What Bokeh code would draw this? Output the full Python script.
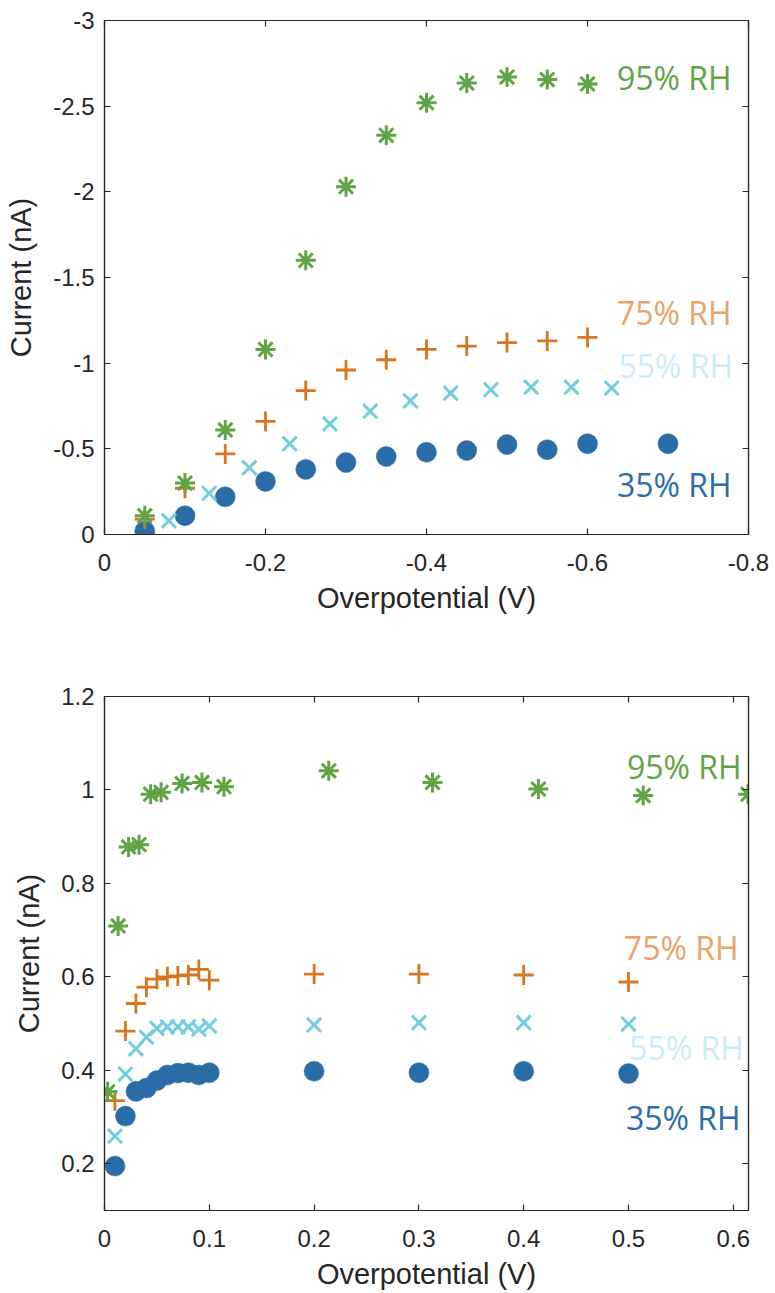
from bokeh.plotting import figure
from bokeh.layouts import column
from bokeh.models import Range1d, FixedTicker, LinearAxis, ColumnDataSource
from bokeh.core.properties import value
from bokeh.embed import file_html
from bokeh.resources import INLINE

# ---------------- data: top panel (cathodic sweep) ----------------
top_x_35 = [-0.05, -0.10, -0.15, -0.20, -0.25, -0.30, -0.35, -0.40, -0.45, -0.50, -0.55, -0.60, -0.70]
top_y_35 = [-0.02, -0.11, -0.22, -0.31, -0.38, -0.42, -0.455, -0.48, -0.49, -0.525, -0.495, -0.53, -0.53]
top_x_55 = [-0.08, -0.13, -0.18, -0.23, -0.28, -0.33, -0.38, -0.43, -0.48, -0.53, -0.58, -0.63]
top_y_55 = [-0.08, -0.24, -0.39, -0.53, -0.645, -0.72, -0.78, -0.825, -0.845, -0.86, -0.86, -0.855]
top_x_75 = [-0.05, -0.10, -0.15, -0.20, -0.25, -0.30, -0.35, -0.40, -0.45, -0.50, -0.55, -0.60]
top_y_75 = [-0.09, -0.27, -0.47, -0.66, -0.84, -0.96, -1.02, -1.08, -1.10, -1.12, -1.13, -1.15]
top_x_95 = [-0.05, -0.10, -0.15, -0.20, -0.25, -0.30, -0.35, -0.40, -0.45, -0.50, -0.55, -0.60]
top_y_95 = [-0.11, -0.30, -0.61, -1.08, -1.60, -2.03, -2.33, -2.52, -2.635, -2.67, -2.655, -2.63]

top_x_ticks = [0, -0.2, -0.4, -0.6, -0.8]
top_x_tick_labels = ["0", "-0.2", "-0.4", "-0.6", "-0.8"]
top_y_ticks = [0, -0.5, -1, -1.5, -2, -2.5, -3]
top_y_tick_labels = ["0", "-0.5", "-1", "-1.5", "-2", "-2.5", "-3"]

top_label_text = ["95% RH", "75% RH", "55% RH", "35% RH"]
top_label_x = [-0.779, -0.779, -0.781, -0.779]
top_label_y = [-2.668, -1.296, -0.989, -0.289]

# ---------------- data: bottom panel (anodic sweep) ----------------
bot_x_35 = [0.01, 0.02, 0.03, 0.04, 0.05, 0.06, 0.07, 0.08, 0.09, 0.10, 0.2, 0.3, 0.4, 0.5]
bot_y_35 = [0.195, 0.302, 0.355, 0.362, 0.378, 0.390, 0.394, 0.395, 0.390, 0.395, 0.398, 0.395, 0.398, 0.393]
bot_x_55 = [0.01, 0.02, 0.03, 0.04, 0.05, 0.06, 0.07, 0.08, 0.09, 0.10, 0.2, 0.3, 0.4, 0.5]
bot_y_55 = [0.259, 0.392, 0.446, 0.471, 0.490, 0.493, 0.493, 0.493, 0.488, 0.495, 0.497, 0.502, 0.502, 0.499]
bot_x_75 = [0.01, 0.02, 0.03, 0.04, 0.05, 0.06, 0.07, 0.08, 0.09, 0.10, 0.2, 0.3, 0.4, 0.5]
bot_y_75 = [0.335, 0.484, 0.543, 0.578, 0.595, 0.600, 0.602, 0.604, 0.616, 0.593, 0.606, 0.606, 0.604, 0.589]
bot_x_95 = [0.003, 0.013, 0.023, 0.033, 0.044, 0.054, 0.074, 0.093, 0.114, 0.214, 0.313, 0.414, 0.514, 0.614]
bot_y_95 = [0.354, 0.709, 0.878, 0.883, 0.991, 0.995, 1.014, 1.016, 1.007, 1.041, 1.016, 1.002, 0.988, 0.991]

bot_x_ticks = [0, 0.1, 0.2, 0.3, 0.4, 0.5, 0.6]
bot_x_tick_labels = ["0", "0.1", "0.2", "0.3", "0.4", "0.5", "0.6"]
bot_y_ticks = [0.2, 0.4, 0.6, 0.8, 1.0, 1.2]
bot_y_tick_labels = ["0.2", "0.4", "0.6", "0.8", "1", "1.2"]

bot_label_text = ["95% RH", "75% RH", "55% RH", "35% RH"]
bot_label_x = [0.608, 0.605, 0.610, 0.607]
bot_label_y = [1.051, 0.663, 0.449, 0.299]

# ---------------- styles ----------------
C35, C55, C75, C95 = "#2A6CA6", "#74CDDF", "#D8751F", "#62A346"
LABEL_COLORS = ["#62A346", "#E8A46A", "#CDEBF6", "#2C6DA7"]
AX = "#262626"
TICK_FONT = "Liberation Sans"


def style_axis(ax, ticks, labels, show_labels=True):
    ax.ticker = FixedTicker(ticks=ticks)
    ax.major_tick_in = 6
    ax.major_tick_out = 0
    ax.minor_tick_line_color = None
    ax.axis_line_color = AX
    ax.axis_line_width = 1.2
    ax.major_tick_line_color = AX
    ax.major_tick_line_width = 1.2
    if show_labels:
        ax.major_label_overrides = {t: l for t, l in zip(ticks, labels)}
        ax.major_label_text_font = TICK_FONT
        ax.major_label_text_color = AX
        ax.major_label_text_font_size = "24px"
    else:
        # mirrored tick marks only (MATLAB box style)
        ax.major_label_text_color = None
        ax.major_label_text_font_size = "1px"
        ax.major_label_standoff = 0


def make_panel(xr, yr, xt, xtl, yt, ytl, height, top_b, bot_b, series, labels):
    p = figure(width=775, height=height, x_range=xr, y_range=yr,
               output_backend="svg", toolbar_location=None,
               min_border_left=104, min_border_right=27,
               min_border_top=top_b, min_border_bottom=bot_b)
    p.grid.visible = False
    p.outline_line_color = AX
    p.outline_line_width = 1.2
    p.background_fill_color = "white"
    p.border_fill_color = "white"

    style_axis(p.xaxis[0], xt, xtl)
    style_axis(p.yaxis[0], yt, ytl)
    p.xaxis.axis_label = "Overpotential (V)"
    p.yaxis.axis_label = "Current (nA)"
    for ax in (p.xaxis[0], p.yaxis[0]):
        ax.axis_label_text_font = TICK_FONT
        ax.axis_label_text_font_style = "normal"
        ax.axis_label_text_font_size = "29px"
        ax.axis_label_text_color = AX
    p.xaxis[0].major_label_standoff = 19
    p.xaxis[0].axis_label_standoff = 8
    p.yaxis[0].major_label_standoff = 10
    p.yaxis[0].axis_label_standoff = 13

    ax_top = LinearAxis()
    style_axis(ax_top, xt, xtl, show_labels=False)
    p.add_layout(ax_top, "above")
    ax_right = LinearAxis()
    style_axis(ax_right, yt, ytl, show_labels=False)
    p.add_layout(ax_right, "right")

    (x35, y35), (x55, y55), (x75, y75), (x95, y95) = series
    p.scatter(x35, y35, marker="circle", size=20, fill_color=C35, line_color=C35, line_width=0.5)
    p.scatter(x55, y55, marker="x", size=20, line_color=C55, line_width=3)
    p.scatter(x75, y75, marker="cross", size=20, line_color=C75, line_width=2.8)
    p.scatter(x95, y95, marker="asterisk", size=20, line_color=C95, line_width=3)

    txt, lx, ly = labels
    src = ColumnDataSource(dict(x=lx, y=ly, t=txt, c=LABEL_COLORS))
    p.text(x="x", y="y", text="t", source=src, text_color="c",
           text_font=value("Open Sans"), text_font_size="32px",
           text_align="right", text_baseline="middle")
    return p


p1 = make_panel(Range1d(0, -0.8), Range1d(0, -3),
                top_x_ticks, top_x_tick_labels, top_y_ticks, top_y_tick_labels,
                640, 20, 106,
                [(top_x_35, top_y_35), (top_x_55, top_y_55), (top_x_75, top_y_75), (top_x_95, top_y_95)],
                (top_label_text, top_label_x, top_label_y))

p2 = make_panel(Range1d(0, 0.6145), Range1d(0.1, 1.2),
                bot_x_ticks, bot_x_tick_labels, bot_y_ticks, bot_y_tick_labels,
                653, 56, 83,
                [(bot_x_35, bot_y_35), (bot_x_55, bot_y_55), (bot_x_75, bot_y_75), (bot_x_95, bot_y_95)],
                (bot_label_text, bot_label_x, bot_label_y))

layout = column(p1, p2, spacing=0)
open("out.html", "w").write(file_html(layout, INLINE))
